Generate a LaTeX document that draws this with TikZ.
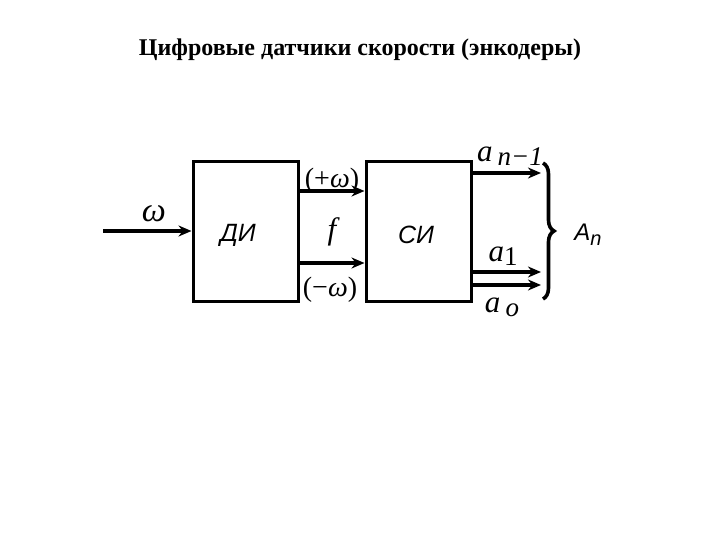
\documentclass[tikz,border=0pt]{standalone}
\usepackage{fontspec}
\setmainfont{Liberation Serif}
\newfontfamily\arialf{Liberation Sans}
\usetikzlibrary{arrows.meta,decorations.pathreplacing}
\tikzset{
  blk/.style={draw, line width=3pt, inner sep=0pt},
  sig/.style={line width=3.6pt, -{Stealth[length=13pt,width=11pt]}},
  lbl/.style={inner sep=0pt, font=\fontsize{31}{33}\selectfont\itshape},
  blkname/.style={inner sep=0pt, font=\fontsize{25}{27}\selectfont\arialf\itshape},
}
\newcommand{\sbs}[1]{\raisebox{-0.3ex}{\fontsize{27}{28}\selectfont #1}}
\begin{document}
\begin{tikzpicture}[x=1pt,y=-1pt]
\useasboundingbox (0,0) rectangle (720,540);
\node[inner sep=0pt, font=\fontsize{24}{26}\selectfont\bfseries] (title) at (360,50) {Цифровые датчики скорости (энкодеры)};
% blocks
\node[blk, minimum width=105pt, minimum height=139pt] (di) at (245.5,231.5) {};
\node[blk, minimum width=105pt, minimum height=139pt] (si) at (418.5,231.5) {};
\node[blkname] (ditxt) at (238,235) {ДИ};
\node[blkname] (sitxt) at (416,235) {СИ};
% input
\coordinate (in) at (103,231);
\draw[sig] (in) -- (di.west |- in);
\node[lbl, font=\fontsize{34}{36}\selectfont\itshape] (w) at (154,214) {ω};
% between blocks
\draw[sig] ([yshift=-31.5pt]di.east) -- ([yshift=-31.5pt]si.west);
\draw[sig] ([yshift=40.5pt]di.east) -- ([yshift=40.5pt]si.west);
\node[lbl, font=\fontsize{28}{30}\selectfont] (pw) at (332,181) {(+\textit{ω})};
\node[lbl, font=\fontsize{28}{30}\selectfont] (mw) at (330,290) {(−\textit{ω})};
\node[lbl] (f) at (332,232) {f};
% outputs
\coordinate (o1) at (541,173);
\coordinate (o2) at (541,272);
\coordinate (o3) at (541,285);
\draw[sig] (si.east |- o1) -- (o1);
\draw[sig] (si.east |- o2) -- (o2);
\draw[sig] (si.east |- o3) -- (o3);
\node[lbl] (an1) at (510,156) {a\,\sbs{\textit{n}−1}};
\node[lbl] (a1) at (503,256) {a\sbs{\upshape 1}};
\node[lbl] (a0) at (502,307) {a\,\sbs{o}};
% brace
\coordinate (bt) at (543,163);
\coordinate (bb) at (543,299);
\draw[line width=3.6pt, decorate, decoration={brace, amplitude=11pt}] (bt) -- (bb);
\node[inner sep=0pt, font=\fontsize{24}{26}\selectfont\arialf\itshape] (An) at (588,235) {A\raisebox{-0.4ex}{\fontsize{20}{21}\selectfont n}};
\end{tikzpicture}
\end{document}
